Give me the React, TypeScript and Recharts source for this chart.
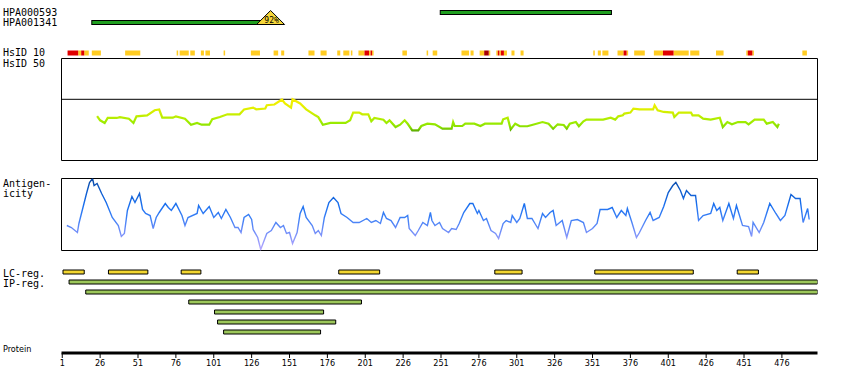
import React from "react";
import {
  BarChart, Bar, Cell, LineChart, Line, XAxis, YAxis,
  ReferenceArea, ReferenceLine,
} from "recharts";

const W = 850;
const H = 390;
const LEFT = 61.5;
const RIGHT = W - 817.5;
const DOMAIN: [number, number] = [0.5, 499.5];
const MONO = "'DejaVu Sans Mono', monospace";
const NARROW = "'Liberation Sans Narrow', 'DejaVu Sans Condensed', 'Liberation Sans', sans-serif";

// antibody targets (residue ranges)
const antibodies = [
  { name: "HPA000593", start: 251, end: 363, identity: null as number | null },
  { name: "HPA001341", start: 21,  end: 138, identity: 92 },
];

// HsID 10 strip, residue ranges
const hsid10Yellow: [number, number][] = [
  [12, 13], [16, 18], [21, 26], [43, 52], [77, 77], [79, 84], [86, 88], [93, 94], [96, 98],
  [108, 108], [126, 131], [141, 143], [146, 147], [164, 167], [172, 175], [183, 184],
  [187, 190], [192, 192], [197, 200], [204, 204], [206, 206], [226, 228], [242, 242],
  [246, 248], [265, 269], [271, 272], [277, 279], [283, 283], [288, 288], [290, 290],
  [293, 294], [298, 299], [304, 305], [352, 352], [355, 356], [358, 361], [368, 371],
  [374, 374], [379, 385], [392, 397], [405, 414], [416, 421], [433, 437], [453, 453],
  [457, 457], [490, 492],
];
const hsid10Red: [number, number][] = [
  [5, 11], [14, 15], [201, 203], [205, 205], [289, 289], [291, 292], [372, 373], [398, 404], [454, 456],
];
const hsid10DarkRed: [number, number][] = [[280, 282]];

// HsID 50 identity (%), [residue, value]
const hsid50: [number, number][] = [
  [24, 43.6], [26, 39.4], [29, 36.8], [31, 41.7], [37, 41.7], [39, 42.5], [45, 41], [48, 36.8],
  [50, 43.3], [57, 44.3], [62, 49.3], [65, 50], [67, 42], [74, 42], [76, 43.3], [82, 41],
  [86, 35.1], [90, 36.8], [93, 35.1], [98, 35.1], [100, 40.4], [105, 42.7], [110, 45.3],
  [118, 45.3], [121, 50], [127, 51.9], [129, 50.2], [135, 51], [136, 54.2], [141, 54.9],
  [146, 59.8], [148, 55.9], [152, 51.9], [153, 60.1], [158, 55.9], [162, 50.2], [168, 44.3],
  [170, 42.5], [173, 35.1], [178, 36.8], [188, 36.8], [191, 39.4], [193, 47], [197, 47],
  [199, 45.3], [203, 45.3], [205, 38.4], [207, 41.7], [213, 40], [215, 36.8], [217, 39.4],
  [221, 32.8], [224, 35.1], [227, 39.4], [229, 36], [232, 29.6], [236, 29.6], [238, 33.8],
  [242, 36.1], [247, 35.5], [252, 31.2], [258, 31.2], [259, 37.7], [260, 33.8], [265, 33.8],
  [267, 36.1], [273, 36.1], [277, 33.8], [280, 36.1], [291, 36.1], [292, 40.4], [295, 42],
  [297, 30.5], [300, 36.1], [303, 33.6], [308, 33.6], [311, 34.8], [318, 37.7], [322, 36.1],
  [325, 31.2], [328, 35.5], [332, 34.8], [334, 31.2], [336, 36.1], [340, 37.7], [342, 33.6],
  [345, 38.4], [347, 40.1], [351, 40.1], [358, 40.1], [363, 42], [366, 40.1], [368, 43.3],
  [371, 44.3], [372, 46], [376, 47], [378, 50.9], [382, 50.2], [391, 50.2], [392, 54.2],
  [394, 49.3], [398, 47.6], [404, 47], [405, 42.7], [408, 47], [416, 47], [417, 44.3],
  [421, 44.3], [424, 41], [429, 40.1], [435, 42], [437, 32.8], [440, 37.7], [443, 35.5],
  [447, 37.7], [452, 37.7], [454, 35.5], [458, 40.1], [464, 40.1], [466, 36.1], [470, 37.7],
  [473, 32.8], [474, 36.1],
];

// antigenicity profile (arbitrary units), [residue, value]
const antigenicity: [number, number][] = [
  [4, 25], [7, 23], [11, 18], [12, 27], [15, 45], [17, 57], [19, 68], [21, 72], [22, 65], [24, 67],
  [27, 57], [30, 48], [34, 33], [38, 25], [40, 14], [42, 17], [44, 40], [47, 54], [49, 48], [52, 57],
  [54, 41], [56, 37], [59, 35], [61, 22], [63, 33], [65, 38], [69, 47], [71, 43], [73, 40], [76, 47],
  [80, 35], [82, 25], [84, 33], [90, 37], [91, 45], [94, 37], [98, 44], [101, 33], [104, 38],
  [106, 32], [109, 41], [112, 33], [115, 23], [117, 23], [119, 18], [121, 33], [124, 36], [126, 31],
  [127, 21], [130, 13], [132, 1], [136, 17], [139, 20], [142, 28], [145, 23], [147, 25], [149, 17],
  [151, 18], [153, 7], [156, 18], [158, 37], [160, 44], [162, 33], [166, 25], [168, 17], [170, 20],
  [172, 15], [174, 33], [177, 48], [180, 53], [183, 48], [185, 37], [189, 33], [193, 28], [197, 28],
  [202, 32], [205, 28], [208, 30], [211, 27], [213, 38], [215, 32], [218, 30], [221, 23], [224, 33],
  [227, 33], [229, 35], [230, 22], [234, 15], [236, 20], [239, 28], [242, 25], [244, 38], [245, 30],
  [247, 25], [250, 28], [252, 22], [256, 18], [258, 22], [261, 21], [263, 27], [266, 38], [270, 47],
  [272, 47], [275, 37], [276, 40], [279, 30], [281, 32], [284, 20], [287, 17], [289, 12], [292, 27],
  [294, 30], [297, 28], [298, 35], [301, 28], [303, 32], [306, 47], [308, 32], [311, 32], [313, 27],
  [315, 22], [318, 37], [320, 33], [323, 38], [325, 40], [327, 25], [331, 30], [334, 13], [337, 30],
  [341, 31], [345, 28], [347, 18], [351, 22], [354, 27], [356, 41], [361, 41], [364, 43], [367, 33],
  [370, 40], [373, 35], [374, 42], [377, 28], [380, 13], [382, 18], [386, 30], [389, 38], [391, 30],
  [395, 33], [398, 44], [401, 58], [404, 65], [406, 68], [409, 60], [411, 52], [413, 60], [416, 55],
  [419, 55], [421, 30], [424, 35], [429, 37], [431, 47], [433, 40], [435, 43], [437, 30], [441, 47],
  [444, 32], [446, 45], [450, 25], [454, 24], [456, 14], [457, 28], [461, 18], [464, 28], [468, 47],
  [472, 37], [475, 30], [478, 35], [482, 56], [485, 52], [488, 52], [490, 28], [493, 42], [494, 31],
];

// low-complexity and interacting-protein regions
const lcRegions: [number, number][] = [
  [2, 15], [32, 57], [80, 92], [184, 210], [287, 304], [353, 417], [447, 460],
];
const ipRegions: [number, number][] = [
  [6, 499], [17, 499], [85, 198], [102, 173], [104, 181], [108, 171],
];

const proteinTicks = [1, 26, 51, 76, 101, 126, 151, 176, 201, 226, 251, 276, 301, 326, 351, 376, 401, 426, 451, 476];

const GREEN = "#1f9e1f";
const YELLOW = "#ffcc22";
const RED = "#e00000";
const DARK_RED = "#a80000";
const LC_FILL = "#f2d630";
const IP_FILL = "#9cc75a";

const span = (s: number, e: number): [number, number] => [s - 0.5, e + 0.5];

const antibodyRows = antibodies.map((a) => ({ ...a, span: span(a.start, a.end) }));

// numeric row index so several segments can share one line
const stripRows = [
  ...hsid10Yellow.map(([s, e]) => ({ row: 0, span: span(s, e), fill: YELLOW })),
  ...hsid10Red.map(([s, e]) => ({ row: 0, span: span(s, e), fill: RED })),
  ...hsid10DarkRed.map(([s, e]) => ({ row: 0, span: span(s, e), fill: DARK_RED })),
];

const regionRows = [
  ...lcRegions.map(([s, e]) => ({ row: 0, span: span(s, e), fill: LC_FILL })),
  ...ipRegions.map(([s, e], i) => ({ row: i + 1, span: span(s, e), fill: IP_FILL })),
];

const hsid50Data = hsid50.map(([pos, value]) => ({ pos, value }));
const antigenData = antigenicity.map(([pos, value]) => ({ pos, value }));

const sideLabels = [
  { text: "HPA000593", y: 12.5 },
  { text: "HPA001341", y: 22.5 },
  { text: "HsID 10", y: 52.5 },
  { text: "HsID 50", y: 63 },
  { text: "Antigen-", y: 183 },
  { text: "icity", y: 193 },
  { text: "LC-reg.", y: 273 },
  { text: "IP-reg.", y: 283 },
];

const layer: React.CSSProperties = { position: "absolute", left: 0, top: 0 };

function AntibodyShape(props: any) {
  const { x, y, width, height, payload } = props;
  const right = x + width;
  const base = y + height;
  return (
    <g>
      <rect x={x} y={y} width={width} height={height} fill={GREEN} stroke="#000" strokeWidth={1} />
      {payload.identity != null && (
        <g>
          <polygon
            points={`${right - 14},${base} ${right},${base - 14} ${right + 14},${base}`}
            fill="#f5d63a" stroke="#000" strokeWidth={1}
          />
          <text x={right + 1} y={base - 2} textAnchor="middle" fontSize={8} fontFamily={MONO} fill="#000">
            {payload.identity}%
          </text>
        </g>
      )}
    </g>
  );
}

function PctTick(props: any) {
  const { x, y, payload } = props;
  const dy = payload.value === 100 ? 4 : payload.value === 60 ? 0.5 : 0;
  return (
    <text x={x} y={y + dy} dominantBaseline="central" fontSize={10} fontFamily={MONO} fill="#000">
      {payload.value}%
    </text>
  );
}

export default function App() {
  return (
    <div style={{ position: "absolute", left: 0, top: 0, width: W, height: H, background: "#fff" }}>
      {/* antibodies */}
      <div style={layer}>
        <BarChart layout="vertical" width={W} height={H} data={antibodyRows} barSize={4}
          margin={{ top: 7.5, bottom: H - 27.5, left: LEFT, right: RIGHT }}>
          <XAxis type="number" domain={DOMAIN} hide allowDataOverflow />
          <YAxis type="category" dataKey="name" hide />
          <Bar dataKey="span" shape={AntibodyShape} isAnimationActive={false} />
        </BarChart>
      </div>

      {/* HsID 10 */}
      <div style={layer}>
        <BarChart layout="vertical" width={W} height={H} data={stripRows} barSize={5}
          margin={{ top: 47.5, bottom: H - 57.5, left: LEFT, right: RIGHT }}>
          <XAxis type="number" domain={DOMAIN} hide allowDataOverflow />
          <YAxis type="number" dataKey="row" domain={[-0.5, 0.5]} hide allowDataOverflow />
          <Bar dataKey="span" isAnimationActive={false}>
            {stripRows.map((r, i) => <Cell key={i} fill={r.fill} />)}
          </Bar>
        </BarChart>
      </div>

      {/* HsID 50 */}
      <div style={layer}>
        <LineChart width={W} height={H} data={hsid50Data}
          margin={{ top: 58.5, bottom: H - 160.5, left: LEFT, right: RIGHT }}>
          <defs>
            <linearGradient id="hsidGrad" gradientUnits="userSpaceOnUse" x1="0" y1="95" x2="0" y2="132">
              <stop offset="0%" stopColor="#ffee00" />
              <stop offset="35%" stopColor="#e4f000" />
              <stop offset="55%" stopColor="#c4ee00" />
              <stop offset="75%" stopColor="#9bec00" />
              <stop offset="88%" stopColor="#88dd00" />
              <stop offset="100%" stopColor="#4f9e00" />
            </linearGradient>
          </defs>
          <XAxis type="number" dataKey="pos" domain={DOMAIN} hide allowDataOverflow />
          <YAxis orientation="right" domain={[0, 100]} ticks={[0, 60, 100]} width={0}
            axisLine={false} tickLine={false} tickSize={0} tickMargin={3} tick={<PctTick />} interval={0} />
          <ReferenceArea x1={DOMAIN[0]} x2={DOMAIN[1]} y1={0} y2={100} fill="none" stroke="#000" strokeWidth={1} fillOpacity={0} />
          <ReferenceLine y={60} stroke="#000" strokeWidth={1} />
          <Line type="linear" dataKey="value" stroke="url(#hsidGrad)" strokeWidth={2.2} dot={false} isAnimationActive={false} />
        </LineChart>
      </div>

      {/* antigenicity */}
      <div style={layer}>
        <LineChart width={W} height={H} data={antigenData}
          margin={{ top: 178.5, bottom: H - 250.5, left: LEFT, right: RIGHT }}>
          <defs>
            <linearGradient id="antiGrad" gradientUnits="userSpaceOnUse" x1="0" y1="178" x2="0" y2="250">
              <stop offset="0%" stopColor="#0a48a0" />
              <stop offset="18%" stopColor="#0f5ccc" />
              <stop offset="38%" stopColor="#1a70f0" />
              <stop offset="55%" stopColor="#3a7ff6" />
              <stop offset="72%" stopColor="#6a8cf8" />
              <stop offset="100%" stopColor="#b8a8ff" />
            </linearGradient>
          </defs>
          <XAxis type="number" dataKey="pos" domain={DOMAIN} hide allowDataOverflow />
          <YAxis domain={[0, 72]} hide allowDataOverflow />
          <ReferenceArea x1={DOMAIN[0]} x2={DOMAIN[1]} y1={0} y2={72} fill="none" stroke="#000" strokeWidth={1} fillOpacity={0} />
          <Line type="linear" dataKey="value" stroke="url(#antiGrad)" strokeWidth={1.4} dot={false} isAnimationActive={false} />
        </LineChart>
      </div>

      {/* LC / IP regions */}
      <div style={layer}>
        <BarChart layout="vertical" width={W} height={H} data={regionRows} barSize={4}
          margin={{ top: 267, bottom: H - 337, left: LEFT, right: RIGHT }}>
          <XAxis type="number" domain={DOMAIN} hide allowDataOverflow />
          <YAxis type="number" dataKey="row" domain={[-0.5, 6.5]} hide allowDataOverflow />
          <Bar dataKey="span" stroke="#000" strokeWidth={1} isAnimationActive={false}>
            {regionRows.map((r, i) => <Cell key={i} fill={r.fill} />)}
          </Bar>
        </BarChart>
      </div>

      {/* protein axis */}
      <div style={layer}>
        <LineChart width={W} height={H} data={proteinTicks.map((pos) => ({ pos }))}
          margin={{ top: 300, bottom: 7, left: LEFT, right: RIGHT }}>
          <XAxis type="number" dataKey="pos" domain={DOMAIN} ticks={proteinTicks} interval={0} height={30}
            axisLine={{ stroke: "#000", strokeWidth: 3 }} tickLine={{ stroke: "#000" }} tickSize={5}
            tick={{ fontSize: 9, fill: "#000", fontFamily: NARROW }} />
          <YAxis hide domain={[0, 1]} />
        </LineChart>
      </div>

      {/* row labels */}
      <svg width={W} height={H} style={{ ...layer, pointerEvents: "none" }}>
        {sideLabels.map((l) => (
          <text key={l.text} x={3} y={l.y} dominantBaseline="central" fontSize={10} fontFamily={MONO} fill="#000">
            {l.text}
          </text>
        ))}
        <text x={3} y={349} dominantBaseline="central" fontSize={9} fontFamily={NARROW} fill="#000">Protein</text>
      </svg>
    </div>
  );
}
